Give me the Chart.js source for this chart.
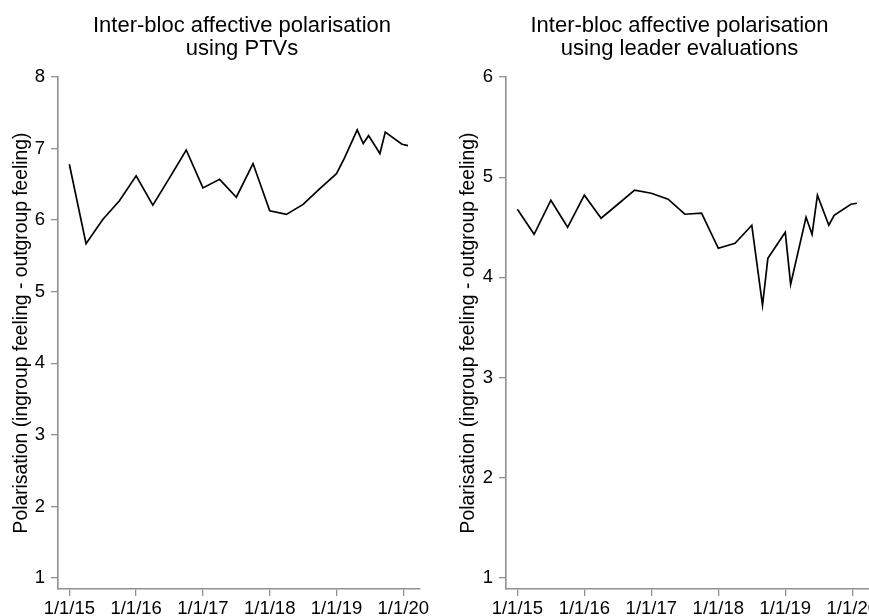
<!DOCTYPE html>
<html>
<head>
<meta charset="utf-8">
<script src="https://cdn.jsdelivr.net/npm/chart.js@4/dist/chart.umd.min.js"></script>
<style>
  html, body { margin: 0; padding: 0; background: #fff; overflow: hidden; }
  #wrap { position: relative; width: 869px; height: 616px; overflow: hidden; }
  canvas { position: absolute; top: 0; }
  #ptv { left: 0; }
  #leader { left: 434px; }
</style>
</head>
<body>
<div id="wrap">
  <canvas id="ptv" width="434" height="616"></canvas>
  <canvas id="leader" width="470" height="616"></canvas>
</div>
<script>
// survey dates as decimal years
const ptvDates = [2015.0, 2015.25, 2015.5, 2015.75, 2016.0, 2016.25, 2016.5, 2016.75,
  2017.0, 2017.25, 2017.5, 2017.75, 2018.0, 2018.25, 2018.5, 2018.75,
  2019.0, 2019.12, 2019.31, 2019.4, 2019.48, 2019.65, 2019.73, 2019.98, 2020.07];
const ptvValues = [6.78, 5.67, 6.01, 6.27, 6.62, 6.21, 6.59, 6.98,
  6.45, 6.57, 6.32, 6.79, 6.13, 6.08, 6.22, 6.44,
  6.65, 6.87, 7.26, 7.07, 7.18, 6.93, 7.23, 7.06, 7.04];

const leaderDates = [2015.0, 2015.25, 2015.5, 2015.75, 2016.0, 2016.25, 2016.5, 2016.75,
  2017.0, 2017.25, 2017.5, 2017.75, 2018.0, 2018.25, 2018.5, 2018.66, 2018.74,
  2019.0, 2019.08, 2019.31, 2019.4, 2019.48, 2019.65, 2019.73, 2019.98, 2020.07];
const leaderValues = [4.68, 4.43, 4.77, 4.5, 4.82, 4.59, 4.73, 4.87,
  4.84, 4.78, 4.63, 4.64, 4.29, 4.34, 4.52, 3.72, 4.19,
  4.45, 3.93, 4.6, 4.43, 4.82, 4.52, 4.62, 4.73, 4.74];

const xTickYears = [2015, 2016, 2017, 2018, 2019, 2020];
const ptvYTicks = [1, 2, 3, 4, 5, 6, 7, 8];
const leaderYTicks = [1, 2, 3, 4, 5, 6];

const yTitle = 'Polarisation (ingroup feeling - outgroup feeling)';
const ptvTitle = ['Inter-bloc affective polarisation', 'using PTVs'];
const leaderTitle = ['Inter-bloc affective polarisation', 'using leader evaluations'];

const FONT = "'Liberation Sans', Arial, Helvetica, sans-serif";
const AXIS = '#8f8f8f';

// nudge the title sideways from the plot centre
const titleShift = {
  id: 'titleShift',
  afterLayout(chart, args, opts) {
    const tb = chart.titleBlock;
    if (tb) { tb.left += opts.dx; tb.right += opts.dx; }
  }
};

const makeChart = (id, title, dates, values, yTicks, yMin, yAxisWidth, titlePad, padRight, dx) => {
  const points = dates.map((d, i) => ({x: d, y: values[i]}));
  return new Chart(document.getElementById(id), {
    type: 'line',
    data: {
      datasets: [{
        data: points,
        borderColor: '#000',
        borderWidth: 1.7,
        pointRadius: 0,
        tension: 0,
        fill: false
      }]
    },
    plugins: [titleShift],
    options: {
      responsive: false,
      animation: false,
      layout: { padding: { left: 0, right: padRight, top: 0, bottom: 0 } },
      plugins: {
        legend: { display: false },
        tooltip: { enabled: false },
        titleShift: { dx: dx },
        title: {
          display: true,
          text: title,
          fullSize: false,
          color: '#000',
          font: { family: FONT, size: 22, weight: 'normal', lineHeight: 1.02 },
          padding: { top: 15, bottom: 17.1 }
        }
      },
      scales: {
        x: {
          type: 'linear',
          min: 2014.83,
          max: 2020.25,
          afterBuildTicks: axis => { axis.ticks = xTickYears.map(v => ({value: v})); },
          afterFit: axis => { axis.height = 27; },
          grid: { display: true, drawOnChartArea: false, drawTicks: true, tickLength: 7, color: AXIS, lineWidth: 1.3 },
          border: { display: true, color: AXIS, width: 1.6 },
          ticks: {
            color: '#000',
            padding: 2,
            maxRotation: 0,
            autoSkip: false,
            font: { family: FONT, size: 18.5 },
            callback: v => '1/1/' + String(v).slice(2)
          }
        },
        y: {
          min: yMin,
          max: yTicks[yTicks.length - 1],
          afterBuildTicks: axis => { axis.ticks = yTicks.map(v => ({value: v})); },
          afterFit: axis => { axis.width = yAxisWidth; },
          grid: { display: true, drawOnChartArea: false, drawTicks: true, tickLength: 7, color: AXIS, lineWidth: 1.3 },
          border: { display: true, color: AXIS, width: 1.6 },
          ticks: {
            color: '#000',
            padding: 6,
            font: { family: FONT, size: 18.5 }
          },
          title: {
            display: true,
            text: yTitle,
            color: '#000',
            font: { family: FONT, size: 19.3 },
            padding: { top: titlePad, bottom: 0 }
          }
        }
      }
    }
  });
};

makeChart('ptv', ptvTitle, ptvDates, ptvValues, ptvYTicks, 0.846, 58, 10, 14, 3);
makeChart('leader', leaderTitle, leaderDates, leaderValues, leaderYTicks, 0.89, 72, 23, 35, -8);
</script>
</body>
</html>
